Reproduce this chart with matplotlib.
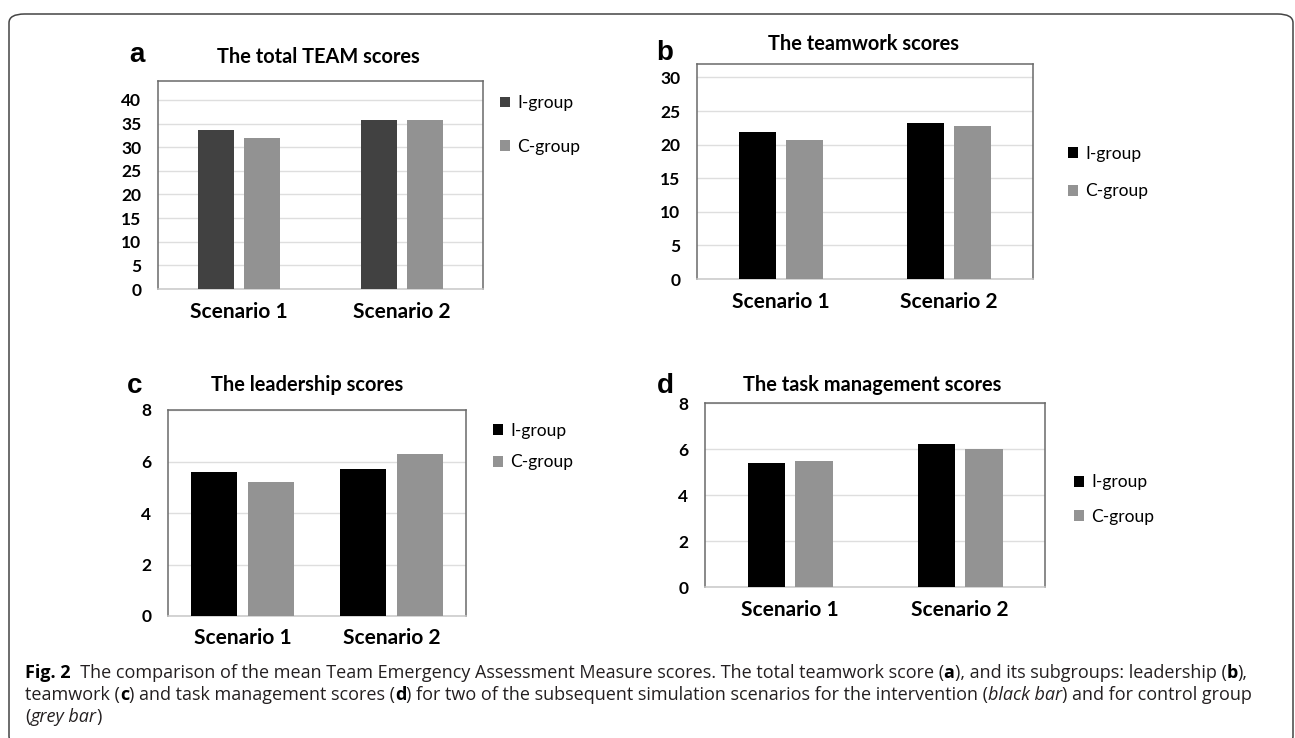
import matplotlib
matplotlib.use("Agg")
import matplotlib.pyplot as plt
from matplotlib.patches import FancyBboxPatch, Patch
import numpy as np

W, H = 1295, 738

categories = ["Scenario 1", "Scenario 2"]
series_names = ["I-group", "C-group"]

total_i = [33.7, 35.8]
total_c = [32.0, 35.8]
teamwork_i = [21.9, 23.2]
teamwork_c = [20.7, 22.7]
leadership_i = [5.6, 5.7]
leadership_c = [5.2, 6.3]
task_i = [5.4, 6.2]
task_c = [5.5, 6.0]

titles = ["The total TEAM scores", "The teamwork scores",
          "The leadership scores", "The task management scores"]
letters = ["a", "b", "c", "d"]
yticks_a = [0, 5, 10, 15, 20, 25, 30, 35, 40]
yticks_b = [0, 5, 10, 15, 20, 25, 30]
yticks_c = [0, 2, 4, 6, 8]
yticks_d = [0, 2, 4, 6, 8]

CHART_FONT = "Lato"
fig = plt.figure(figsize=(W / 100, H / 100), dpi=100)
fig.patch.set_facecolor("white")


def fx(px):
    return px / W


def fy(py):
    return (H - py) / H


def rect(l, r, t, b):
    return [fx(l), fy(b), fx(r) - fx(l), fy(t) - fy(b)]


# outer frame
frame = FancyBboxPatch((fx(9), fy(745)), fx(1293) - fx(9), fy(14) - fy(745),
                       boxstyle="round,pad=0,rounding_size=0.012",
                       transform=fig.transFigure, facecolor="none",
                       edgecolor="#444444", linewidth=1.1, clip_on=False)
fig.patches.append(frame)

panels = [
    dict(box=(158, 483, 81, 289), ylim=44, ticks=yticks_a, vals=(total_i, total_c),
         cols=("#414141", "#929292"), width=0.222, off=0.142,
         title_xy=(318, 63), letter_xy=(137, 62), leg_xy=(500, 125), leg_sp=1.6),
    dict(box=(697, 1033, 64, 279), ylim=32, ticks=yticks_b, vals=(teamwork_i, teamwork_c),
         cols=("#000000", "#939393"), width=0.22, off=0.14,
         title_xy=(864, 50), letter_xy=(665, 60), leg_xy=(1068, 172.5), leg_sp=1.25),
    dict(box=(168, 466, 410, 616), ylim=8, ticks=yticks_c, vals=(leadership_i, leadership_c),
         cols=("#000000", "#939393"), width=0.31, off=0.19,
         title_xy=(307, 391), letter_xy=(135, 393), leg_xy=(493, 446.5), leg_sp=0.92),
    dict(box=(705, 1045, 403, 587), ylim=8, ticks=yticks_d, vals=(task_i, task_c),
         cols=("#000000", "#939393"), width=0.22, off=0.14,
         title_xy=(872, 391), letter_xy=(665, 393), leg_xy=(1074, 499.5), leg_sp=1.05),
]

x = np.arange(len(categories))
for i, p in enumerate(panels):
    ax = fig.add_axes(rect(*p["box"]))
    vi, vc = p["vals"]
    ax.bar(x - p["off"], vi, width=p["width"], color=p["cols"][0], zorder=3)
    ax.bar(x + p["off"], vc, width=p["width"], color=p["cols"][1], zorder=3)
    ax.set_xlim(-0.5, 1.5)
    ax.set_ylim(0, p["ylim"])
    ax.set_yticks(p["ticks"])
    ax.set_yticklabels([str(t) for t in p["ticks"]], fontfamily=CHART_FONT,
                       fontweight="bold", fontsize=12.5)
    ax.set_xticks(x)
    ax.set_xticklabels(categories, fontfamily=CHART_FONT, fontweight="bold", fontsize=15)
    ax.tick_params(axis="both", length=0)
    ax.tick_params(axis="y", pad=12)
    ax.tick_params(axis="x", pad=9)
    ax.yaxis.grid(True, color="#dedede", linewidth=1.0, zorder=0)
    ax.set_axisbelow(True)
    for s in ax.spines.values():
        s.set_color("#6a6a6a")
        s.set_linewidth(1.1)
    ax.spines["bottom"].set_color("#c8c8c8")

    tx, ty = p["title_xy"]
    fig.text(fx(tx), fy(ty), titles[i], ha="center", va="baseline",
             fontfamily=CHART_FONT, fontweight="bold", fontsize=14.4, color="black")
    lx, ly = p["letter_xy"]
    fig.text(fx(lx), fy(ly), letters[i], ha="center", va="baseline",
             fontfamily="Liberation Sans", fontweight="bold", fontsize=20, color="black")
    gx, gy = p["leg_xy"]
    handles = [Patch(facecolor=p["cols"][0]), Patch(facecolor=p["cols"][1])]
    fig.legend(handles, series_names, loc="center left",
               bbox_to_anchor=(fx(gx), fy(gy)), bbox_transform=fig.transFigure,
               frameon=False, handlelength=0.58, handleheight=0.58,
               handletextpad=0.4, borderpad=0, borderaxespad=0,
               labelspacing=p["leg_sp"],
               prop=dict(family=CHART_FONT, size=12.5))

# caption with mixed styles
CAP_FONT = "Open Sans"
CAP_SIZE = 13.0
renderer = fig.canvas.get_renderer()


def advance(s, weight, style):
    t1 = fig.text(0, 0, "|" + s + "|", fontfamily=CAP_FONT, fontsize=CAP_SIZE,
                  fontweight=weight, fontstyle=style)
    t2 = fig.text(0, 0, "||", fontfamily=CAP_FONT, fontsize=CAP_SIZE,
                  fontweight=weight, fontstyle=style)
    w = t1.get_window_extent(renderer).width - t2.get_window_extent(renderer).width
    t1.remove()
    t2.remove()
    return w


def rich_line(x0, yb, pieces):
    xp = x0
    for s, weight, style in pieces:
        color = "black" if weight == "bold" else "#231f20"
        fig.text(fx(xp), fy(yb), s, ha="left", va="baseline", fontfamily=CAP_FONT,
                 fontsize=CAP_SIZE, fontweight=weight, fontstyle=style, color=color)
        xp += advance(s, weight, style)


N, B, I = "normal", "bold", "italic"
line1 = [("Fig. 2", B, N),
         ("  The comparison of the mean Team Emergency Assessment Measure scores. "
          "The total teamwork score (", N, N), ("a", B, N),
         ("), and its subgroups: leadership (", N, N), ("b", B, N), ("),", N, N)]
line2 = [("teamwork (", N, N), ("c", B, N), (") and task management scores (", N, N),
         ("d", B, N),
         (") for two of the subsequent simulation scenarios for the intervention (", N, N),
         ("black bar", N, I), (") and for control group", N, N)]
line3 = [("(", N, N), ("grey bar", N, I), (")", N, N)]
rich_line(25, 678, line1)
rich_line(25, 700, line2)
rich_line(25, 722, line3)

fig.savefig("out.png", dpi=100)
